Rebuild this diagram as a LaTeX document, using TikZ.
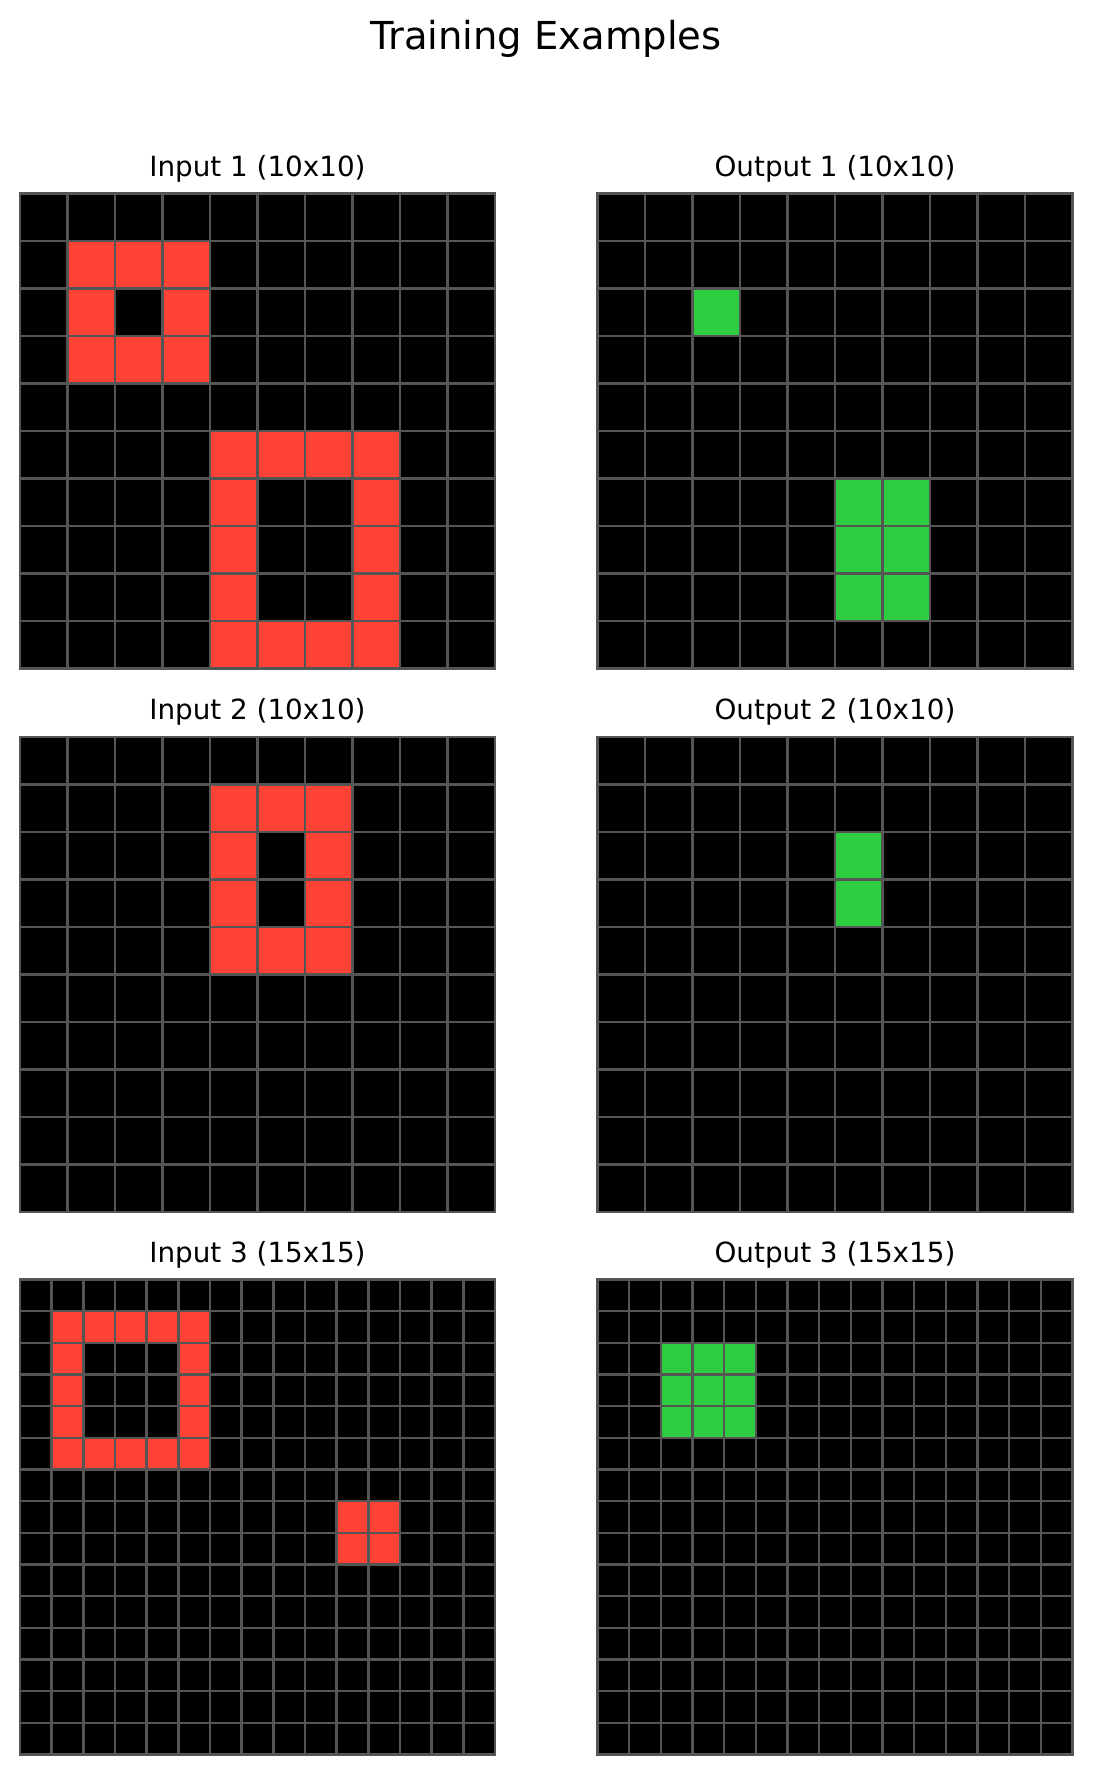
\documentclass[tikz,border=0pt]{standalone}
\usepackage{fontspec}
\setmainfont{DejaVu Sans}
\definecolor{arcred}{HTML}{FF4136}
\definecolor{arcgreen}{HTML}{2ECC40}
\definecolor{gridgray}{HTML}{555555}
\tikzset{
  gridline/.style={draw=gridgray, line width=2.6pt, line cap=rect},
  maintitle/.style={anchor=base, inner sep=0pt, font=\fontsize{38.5}{44}\selectfont},
  subtitle/.style={anchor=base, inner sep=0pt, font=\fontsize{27.8}{32}\selectfont},
}
\newcommand\mygrid[5]{%
  \pgfmathsetmacro\mycs{475/#3}%
  \fill[black] (#1,#2) rectangle ++(475,475);
  \foreach \r/\c in {#4} {\fill[#5] ({#1+\c*\mycs},{#2+\r*\mycs}) rectangle ++(\mycs,\mycs);}
  \foreach \i in {0,...,#3} {
    \draw[gridline] ({#1+\i*\mycs},#2) -- ++(0,475);
    \draw[gridline] (#1,{#2+\i*\mycs}) -- ++(475,0);
  }
}
\begin{document}
\begin{tikzpicture}[x=1pt,y=-1pt]
\useasboundingbox[fill=white] (0,0) rectangle (1092,1774);
\node[maintitle] (title) at (546,49.5) {Training Examples};
% row 1
\node[subtitle] (in1) at (257.5,176.7) {Input 1 (10x10)};
\node[subtitle] (out1) at (835,176.7) {Output 1 (10x10)};
\mygrid{20}{193.5}{10}{1/1,1/2,1/3,2/1,2/3,3/1,3/2,3/3,5/4,5/5,5/6,5/7,6/4,6/7,7/4,7/7,8/4,8/7,9/4,9/5,9/6,9/7}{arcred}
\mygrid{597.5}{193.5}{10}{2/2,6/5,6/6,7/5,7/6,8/5,8/6}{arcgreen}
% row 2
\node[subtitle] (in2) at (257.5,719.8) {Input 2 (10x10)};
\node[subtitle] (out2) at (835,719.8) {Output 2 (10x10)};
\mygrid{20}{737}{10}{1/4,1/5,1/6,2/4,2/6,3/4,3/6,4/4,4/5,4/6}{arcred}
\mygrid{597.5}{737}{10}{2/5,3/5}{arcgreen}
% row 3
\node[subtitle] (in3) at (257.5,1262.8) {Input 3 (15x15)};
\node[subtitle] (out3) at (835,1262.8) {Output 3 (15x15)};
\mygrid{20}{1279.5}{15}{1/1,1/2,1/3,1/4,1/5,2/1,2/5,3/1,3/5,4/1,4/5,5/1,5/2,5/3,5/4,5/5,7/10,7/11,8/10,8/11}{arcred}
\mygrid{597.5}{1279.5}{15}{2/2,2/3,2/4,3/2,3/3,3/4,4/2,4/3,4/4}{arcgreen}
\end{tikzpicture}
\end{document}
